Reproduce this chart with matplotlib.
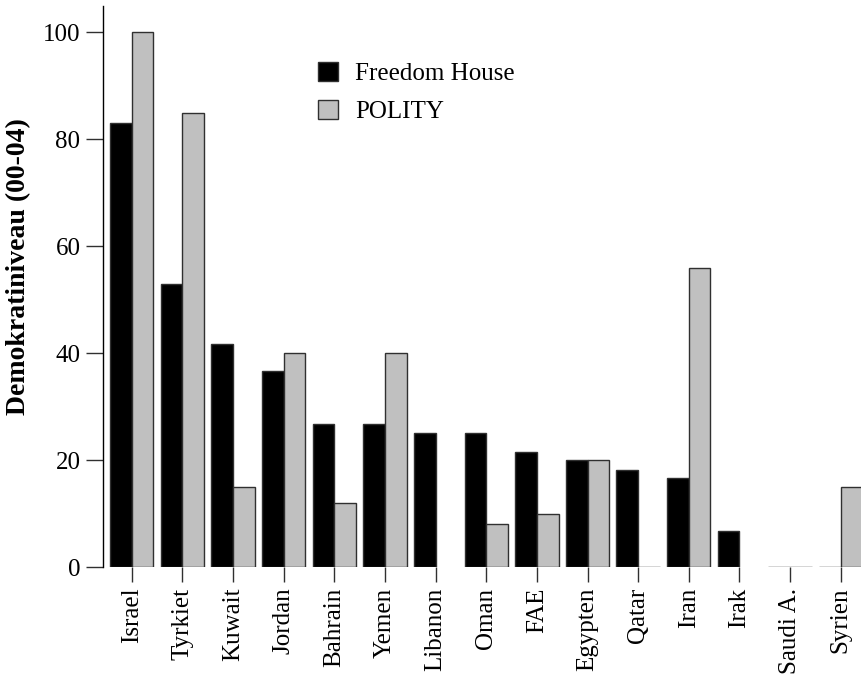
import matplotlib
matplotlib.use('Agg')
import matplotlib.pyplot as plt
import numpy as np

countries = ['Israel', 'Tyrkiet', 'Kuwait', 'Jordan', 'Bahrain', 'Yemen', 'Libanon',
             'Oman', 'FAE', 'Egypten', 'Qatar', 'Iran', 'Irak', 'Saudi A.', 'Syrien']
freedom_house = [83, 53, 41.7, 36.7, 26.7, 26.7, 25, 25, 21.5, 20, 18.1, 16.7, 6.7, 0, 0]
polity = [100, 85, 15, 40, 12, 40, np.nan, 8, 10, 20, 0, 56, np.nan, 0, 15]

plt.rcParams['font.family'] = 'Liberation Serif'
plt.rcParams['font.size'] = 18

fig = plt.figure(figsize=(8.61, 6.81), dpi=100)
ax = fig.add_axes([0.1193, 0.1674, 0.8807, 0.8242])

x = np.arange(len(countries))
w = 0.428
ax.bar(x, freedom_house, width=-w, align='edge', color='black',
       edgecolor='#303030', linewidth=1, label='Freedom House')
ax.bar(x, polity, width=w, align='edge', color='#c0c0c0',
       edgecolor='#303030', linewidth=1, label='POLITY')

ax.set_xlim(-0.572, 14.40)
ax.set_ylim(0, 105)
ax.set_yticks([0, 20, 40, 60, 80, 100])
ax.set_xticks(x)
ax.set_xticklabels(countries, rotation=90)

for s in ['top', 'right', 'bottom']:
    ax.spines[s].set_visible(False)
ax.spines['left'].set_linewidth(1)
ax.tick_params(axis='y', length=12, width=1, pad=4, color='#303030')
ax.tick_params(axis='x', length=11, width=1, pad=4, color='#303030')

ax.set_ylabel('Demokratiniveau (00-04)', fontweight='bold', fontsize=20)
ax.yaxis.set_label_coords(-0.094, 0.536)

ax.legend(loc='upper left', bbox_to_anchor=(318 / 861, 1 - 62 / 681),
          bbox_transform=fig.transFigure, frameon=False, borderpad=0,
          borderaxespad=0, handlelength=0.8, handleheight=0.8,
          handletextpad=0.67, labelspacing=0.6)

fig.savefig('out.png', dpi=100)
